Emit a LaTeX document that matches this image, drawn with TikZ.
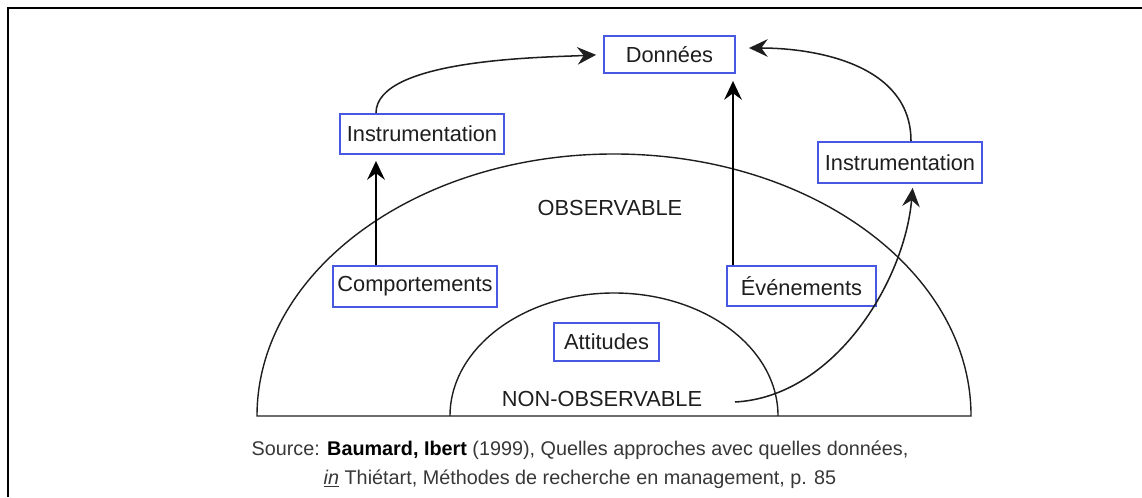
\documentclass[tikz,border=0pt]{standalone}
\usepackage{fontspec}
\setmainfont{Liberation Sans}
\usetikzlibrary{arrows.meta}
\definecolor{boxblue}{RGB}{72,88,225}
\definecolor{ink}{RGB}{30,30,30}
\definecolor{capgray}{RGB}{55,55,55}
\begin{document}
\begin{tikzpicture}[x=0.03cm,y=0.03cm,
  every node/.style={font=\fontsize{18.6}{22}\selectfont, text=ink},
  boxnode/.style={draw=boxblue, line width=1.6pt, fill=white, inner sep=0pt},
  arcline/.style={draw=ink, line width=1.2pt},
  tipstyle/.style={-{Stealth[length=16pt,width=15pt,inset=5.5pt]}},
  arrstraight/.style={draw=black, line width=2pt, tipstyle},
  arrcurve/.style={draw=ink, line width=1.3pt, tipstyle}]
\useasboundingbox (0,0) rectangle (1142,497);
% frame (cropped)
\draw[line width=2pt, black] (8,0) -- (8,489) -- (1142,489);
% semicircles
\draw[arcline] (257,81) arc[start angle=180, end angle=0, x radius=10.71cm, y radius=7.86cm] -- cycle;
\draw[arcline] (450,81) arc[start angle=180, end angle=0, x radius=4.92cm, y radius=3.69cm];
% labels
\node (obs) at (610,289) {OBSERVABLE};
\node (nonobs) at (602,98) {NON-OBSERVABLE};
% boxes
\node[boxnode, minimum width=3.93cm, minimum height=1.11cm] (don) at (669.5,442.5) {Données};
\node[boxnode, minimum width=4.92cm, minimum height=1.2cm] (instL) at (422,363) {Instrumentation};
\node[boxnode, minimum width=4.92cm, minimum height=1.23cm] (instR) at (900,334.5) {Instrumentation};
\node[boxnode, minimum width=4.92cm, minimum height=1.23cm] (comp) at (415,210.5) {Comportements};
\node[boxnode, minimum width=4.47cm, minimum height=1.2cm] (even) at (801.5,211) {Événements};
\node[boxnode, minimum width=3.15cm, minimum height=1.14cm] (att) at (606.5,155) {Attitudes};
% caption
\node[font=\fontsize{16.9}{25}\selectfont, text=capgray, align=center] (cap) at (580,32)
  {Source: {\color{black}\bfseries Baumard, Ibert} (1999), Quelles approches avec quelles données,\\
   \underline{\itshape in} Thiétart, Méthodes de recherche en management, p. 85};
% helper coordinates
\coordinate (xl) at (376,0);
\coordinate (xe) at (733,0);
\coordinate (xr) at (911,0);
\coordinate (xr2) at (913,0);
\coordinate (nstart) at (735,95);
% connectors
\draw[arrstraight, shorten >=0.18cm] (comp.north -| xl) -- (instL.south -| xl);
\draw[arrstraight, shorten >=0.21cm] (even.north -| xe) -- (don.south -| xe);
\draw[arrcurve, shorten >=0.21cm] (instL.north -| xl) to[out=90, in=183, looseness=0.6] (don.west);
\draw[arrcurve, shorten >=0.39cm] (instR.north -| xr) to[out=90, in=0] ([yshift=0.195cm]don.east);
\draw[arrcurve, shorten >=0.12cm] (nstart) to[out=3, in=-95, looseness=0.9] (instR.south -| xr2);
\end{tikzpicture}
\end{document}
